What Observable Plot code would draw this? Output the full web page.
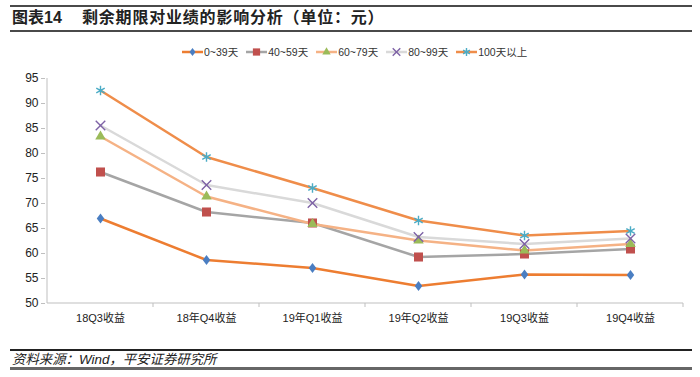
<!DOCTYPE html>
<html>
<head>
<meta charset="utf-8">
<script src="https://cdn.jsdelivr.net/npm/d3@7"></script>
<script src="https://cdn.jsdelivr.net/npm/@observablehq/plot@0.6"></script>
<style>
  body { margin: 0; background: #fff; }
  #wrap { position: relative; width: 700px; height: 377px; overflow: hidden;
    font-family: "Liberation Sans", Arial, "Noto Sans CJK SC", sans-serif; color: #222; }
  #chart { position: absolute; left: 0; top: 0; }
  .hline { position: absolute; left: 10px; width: 682px; }
  #title { position: absolute; top: 8px; left: 12px; font-size: 16px; font-weight: bold;
    font-family: "Liberation Sans", Arial, "Noto Sans CJK SC", sans-serif; white-space: nowrap; line-height: 20px; }
  #title .t2 { position: absolute; left: 70px; top: 0; letter-spacing: 0.8px; }
  #legend { position: absolute; top: 44px; left: 182px; display: flex; align-items: center;
    font-size: 10.5px; color: #333; white-space: nowrap; }
  #legend .item { display: flex; align-items: center; margin-right: 8px; }
  #legend svg { margin-right: 1px; }
  #source { position: absolute; top: 352px; left: 12px; font-size: 13.4px; font-style: italic; line-height: 16px; white-space: nowrap; }
</style>
</head>
<body>
<div id="wrap">
  <div id="chart"></div>
  <div class="hline" style="top:5px;height:2px;background:#4a4a4a"></div>
  <div id="title"><span>图表14</span><span class="t2">剩余期限对业绩的影响分析（单位：元）</span></div>
  <div class="hline" style="top:30px;height:2px;background:#4a4a4a"></div>
  <div id="legend"></div>
  <div class="hline" style="top:349px;height:1.5px;background:#222"></div>
  <div id="source">资料来源：Wind，平安证券研究所</div>
  <div class="hline" style="top:367px;height:3px;background:#666"></div>
</div>
<script>
// ---- data ----
const categories = ["18Q3收益", "18年Q4收益", "19年Q1收益", "19年Q2收益", "19Q3收益", "19Q4收益"];
const seriesNames = ["0~39天", "40~59天", "60~79天", "80~99天", "100天以上"];
const days0to39   = [67.0, 58.7, 57.1, 53.5, 55.8, 55.7];
const days40to59  = [76.3, 68.3, 66.1, 59.3, 59.9, 60.9];
const days60to79  = [83.4, 71.4, 65.9, 62.6, 60.6, 61.9];
const days80to99  = [85.6, 73.7, 70.1, 63.3, 61.9, 63.0];
const days100plus = [92.6, 79.3, 73.1, 66.6, 63.6, 64.5];
const yTicks = [50, 55, 60, 65, 70, 75, 80, 85, 90, 95];

const seriesValues = [days0to39, days40to59, days60to79, days80to99, days100plus];

// ---- styles ----
const diamondSym = {
  draw(ctx, size) {
    const a = Math.sqrt(size) / 2;
    ctx.moveTo(0, -a * 1.35); ctx.lineTo(a, 0); ctx.lineTo(0, a * 1.35); ctx.lineTo(-a, 0); ctx.closePath();
  }
};
const styles = [
  {line: "#ED7D31", symbol: diamondSym, fill: "#4A7EC2", stroke: "none", r: 4.2, sw: 0},
  {line: "#A5A5A5", symbol: "square", fill: "#C0504D", stroke: "none", r: 5.1, sw: 0},
  {line: "#F5B285", symbol: "triangle", fill: "#9BBB59", stroke: "none", r: 3.9, sw: 0},
  {line: "#D9D9D9", symbol: "times", fill: "none", stroke: "#7E62A6", r: 4.4, sw: 1.4},
  {line: "#EF8D4A", symbol: "asterisk", fill: "none", stroke: "#4BACC6", r: 4.6, sw: 1.4}
];

const rows = [];
seriesNames.forEach((name, si) => {
  categories.forEach((c, ci) => rows.push({series: name, si, cat: c, v: seriesValues[si][ci]}));
});

const marks = [];
styles.forEach((st, si) => {
  marks.push(Plot.line(rows.filter(d => d.si === si), {x: "cat", y: "v", stroke: st.line, strokeWidth: 2.5}));
});
styles.forEach((st, si) => {
  marks.push(Plot.dot(rows.filter(d => d.si === si), {
    x: "cat", y: "v", symbol: st.symbol, r: st.r,
    fill: st.fill, stroke: st.stroke, strokeWidth: st.sw
  }));
});
marks.push(Plot.axisY({ticks: yTicks, tickSize: 4, tickPadding: 3, stroke: "#bfbfbf", fill: "#222",
  fontSize: 12, label: null, fontFamily: "Liberation Sans, Arial, sans-serif"}));
marks.push(Plot.axisX({tickSize: 0, tickPadding: 11, fill: "#222", fontSize: 11, label: null,
  fontFamily: "Liberation Sans, Arial, Noto Sans CJK SC, sans-serif"}));

const chart = Plot.plot({
  width: 700, height: 377,
  marginLeft: 45, marginRight: 15, marginTop: 78, marginBottom: 74,
  style: {background: "transparent", overflow: "visible"},
  x: {type: "point", domain: categories, padding: 0.5},
  y: {domain: [50, 95]},
  marks
});
document.getElementById("chart").appendChild(chart);

// axis lines and between-category ticks, from the plot's own scales
const sx = chart.scale("x"), sy = chart.scale("y");
const step = sx.apply(categories[1]) - sx.apply(categories[0]);
const [x0, x1] = [sx.apply(categories[0]) - step / 2, sx.apply(categories[categories.length - 1]) + step / 2];
const yb = sy.apply(50), yt = sy.apply(95);
const svg = d3.select(chart);
const g = svg.insert("g", ":first-child").attr("stroke", "#bfbfbf").attr("stroke-width", 1);
g.append("line").attr("x1", x0).attr("x2", x0).attr("y1", yt).attr("y2", yb);
g.append("line").attr("x1", x0).attr("x2", x1).attr("y1", yb).attr("y2", yb);
categories.forEach((c, i) => {
  const xx = x0 + (i + 1) * step;
  g.append("line").attr("x1", xx).attr("x2", xx).attr("y1", yb).attr("y2", yb + 4);
});

// legend
const legend = d3.select("#legend");
seriesNames.forEach((name, si) => {
  const st = styles[si];
  const item = legend.append("div").attr("class", "item");
  const s = item.append("svg").attr("width", 21).attr("height", 12);
  s.append("line").attr("x1", 0).attr("x2", 21).attr("y1", 6).attr("y2", 6)
    .attr("stroke", st.line).attr("stroke-width", 2.5);
  const symType = typeof st.symbol === "string"
    ? {square: d3.symbolSquare, triangle: d3.symbolTriangle, times: d3.symbolTimes, asterisk: d3.symbolAsterisk}[st.symbol]
    : st.symbol;
  const size = Math.PI * (st.r * 0.8) ** 2;
  s.append("path").attr("transform", "translate(10.5,6)")
    .attr("d", d3.symbol(symType, size)())
    .attr("fill", st.fill).attr("stroke", st.stroke).attr("stroke-width", st.sw);
  item.append("span").text(name);
});
</script>
</body>
</html>
